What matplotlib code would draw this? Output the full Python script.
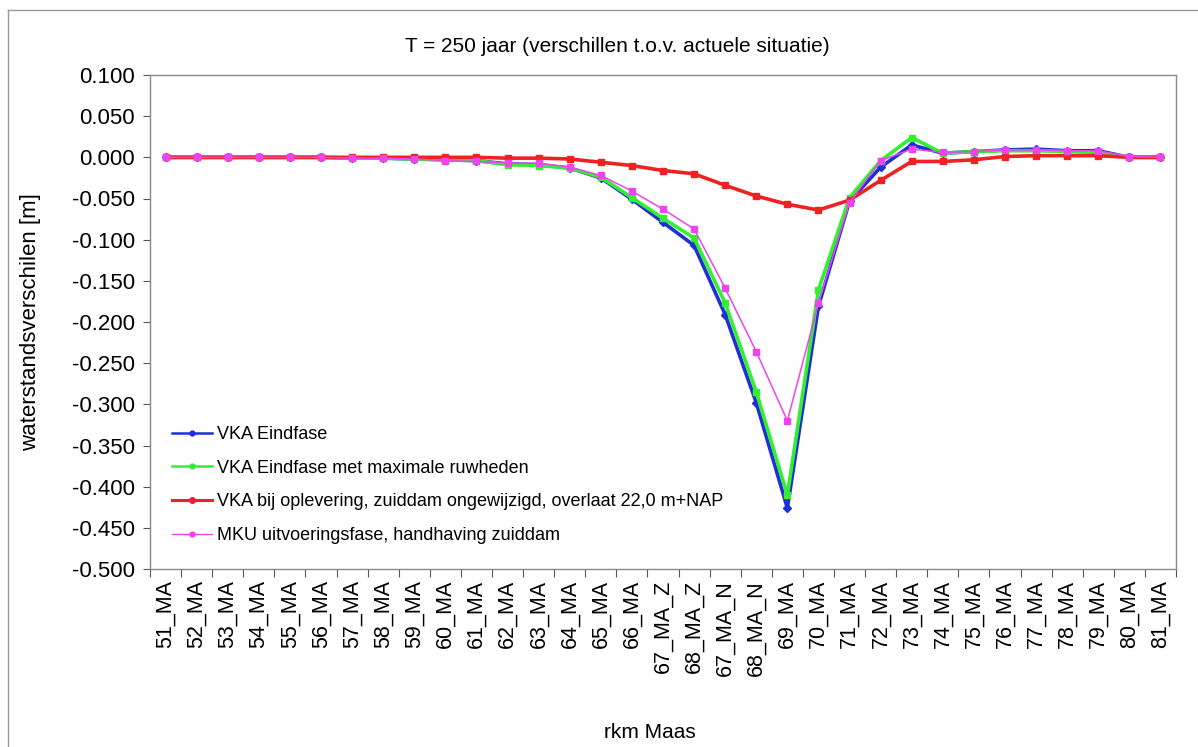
import matplotlib
matplotlib.use("Agg")
import matplotlib.pyplot as plt
from matplotlib.lines import Line2D
import numpy as np

plt.rcParams['font.family'] = ['Liberation Sans', 'DejaVu Sans']

categories = ["51_MA", "52_MA", "53_MA", "54_MA", "55_MA", "56_MA", "57_MA", "58_MA",
              "59_MA", "60_MA", "61_MA", "62_MA", "63_MA", "64_MA", "65_MA", "66_MA",
              "67_MA_Z", "68_MA_Z", "67_MA_N", "68_MA_N", "69_MA", "70_MA", "71_MA",
              "72_MA", "73_MA", "74_MA", "75_MA", "76_MA", "77_MA", "78_MA", "79_MA",
              "80_MA", "81_MA"]

vka_eindfase = [0.000, 0.000, 0.000, 0.000, 0.000, 0.000, -0.001, -0.001,
                -0.002, -0.003, -0.004, -0.008, -0.009, -0.013, -0.025, -0.051,
                -0.079, -0.107, -0.191, -0.298, -0.426, -0.181, -0.053,
                -0.012, 0.015, 0.005, 0.007, 0.009, 0.010, 0.008, 0.008,
                0.000, 0.000]

vka_max_ruwheden = [0.000, 0.000, 0.000, 0.000, 0.000, 0.000, -0.001, -0.001,
                    -0.002, -0.003, -0.004, -0.009, -0.010, -0.013, -0.024, -0.049,
                    -0.074, -0.098, -0.177, -0.285, -0.410, -0.161, -0.049,
                    -0.004, 0.024, 0.005, 0.007, 0.008, 0.008, 0.007, 0.006,
                    0.000, 0.000]

vka_oplevering = [0.000, 0.000, 0.000, 0.000, 0.000, 0.000, 0.000, 0.000,
                  0.000, 0.000, 0.000, -0.001, -0.001, -0.002, -0.006, -0.010,
                  -0.016, -0.020, -0.034, -0.047, -0.057, -0.064, -0.052,
                  -0.028, -0.005, -0.005, -0.003, 0.001, 0.002, 0.002, 0.002,
                  0.000, 0.000]

mku_uitvoering = [0.000, 0.000, 0.000, 0.000, 0.000, 0.000, -0.001, -0.001,
                  -0.002, -0.004, -0.005, -0.007, -0.007, -0.012, -0.022, -0.041,
                  -0.063, -0.087, -0.159, -0.236, -0.320, -0.177, -0.055,
                  -0.004, 0.010, 0.006, 0.007, 0.009, 0.009, 0.008, 0.008,
                  0.001, 0.000]

ytick_values = [-0.500, -0.450, -0.400, -0.350, -0.300, -0.250, -0.200, -0.150,
                -0.100, -0.050, 0.000, 0.050, 0.100]

labels = ["VKA Eindfase",
          "VKA Eindfase met maximale ruwheden",
          "VKA bij oplevering, zuiddam ongewijzigd, overlaat 22,0 m+NAP",
          "MKU uitvoeringsfase, handhaving zuiddam"]

W, H = 1198, 747
fig = plt.figure(figsize=(W / 100, H / 100), dpi=100)
fig.patch.set_facecolor('white')

ax_l, ax_r, ax_t, ax_b = 150, 1176, 75, 569
ax = fig.add_axes([ax_l / W, 1 - ax_b / H, (ax_r - ax_l) / W, (ax_b - ax_t) / H])

x = np.arange(len(categories))
ax.plot(x, vka_eindfase, color='#1f2fd6', lw=2.6, marker='D', ms=4.5, zorder=3)
ax.plot(x, vka_max_ruwheden, color='#33ee33', lw=2.6, marker='s', ms=4.5, zorder=4)
ax.plot(x, vka_oplevering, color='#ee2222', lw=2.6, marker='s', ms=5, zorder=5)
ax.plot(x, mku_uitvoering, color='#ee44ee', lw=1.1, marker='s', ms=5, zorder=6)

ax.set_xlim(-0.5, len(categories) - 0.5)
ax.set_ylim(-0.5, 0.1)
ax.set_yticks(ytick_values)
ax.set_yticklabels([f"{v:.3f}" for v in ytick_values], fontsize=16)

ax.set_xticks(x)
ax.set_xticklabels(categories, rotation=90, fontsize=15.5)
ax.tick_params(axis='x', length=0, pad=8)
ax.set_xticks(np.arange(-0.5, len(categories), 1.0), minor=True)
ax.tick_params(axis='x', which='minor', length=6, color='#555555', width=0.8)
ax.tick_params(axis='y', length=5, color='#555555', width=0.8, pad=6)

for s in ax.spines.values():
    s.set_color('#888888')
    s.set_linewidth(1.0)

fig.text(617 / W, 1 - 47 / H, "T = 250 jaar (verschillen t.o.v. actuele situatie)",
         ha='center', va='center', fontsize=15)
fig.text(31 / W, 1 - 322 / H, "waterstandsverschilen [m]", rotation=90,
         ha='center', va='center', fontsize=16)
fig.text(650 / W, 1 - 733 / H, "rkm Maas", ha='center', va='center', fontsize=15)

handles = [
    Line2D([], [], color='#1f2fd6', lw=1.8, marker='o', ms=3.5),
    Line2D([], [], color='#33ee33', lw=1.8, marker='o', ms=3.5),
    Line2D([], [], color='#ee2222', lw=2.2, marker='o', ms=4),
    Line2D([], [], color='#ee44ee', lw=1.0, marker='o', ms=3.5),
]
fig.legend(handles, labels, loc='upper left',
           bbox_to_anchor=(172 / W, 1 - 426 / H), bbox_transform=fig.transFigure,
           frameon=False, fontsize=13, labelspacing=0.92, handlelength=2.2,
           handletextpad=0.3, borderpad=0, borderaxespad=0)

# outer chart frame
fig.add_artist(Line2D([8 / W, 8 / W], [0, 1 - 10 / H], transform=fig.transFigure,
                      color='#999999', lw=1.0))
fig.add_artist(Line2D([8 / W, 1], [1 - 10 / H, 1 - 10 / H], transform=fig.transFigure,
                      color='#999999', lw=1.0))

fig.savefig("out.png", dpi=100)
